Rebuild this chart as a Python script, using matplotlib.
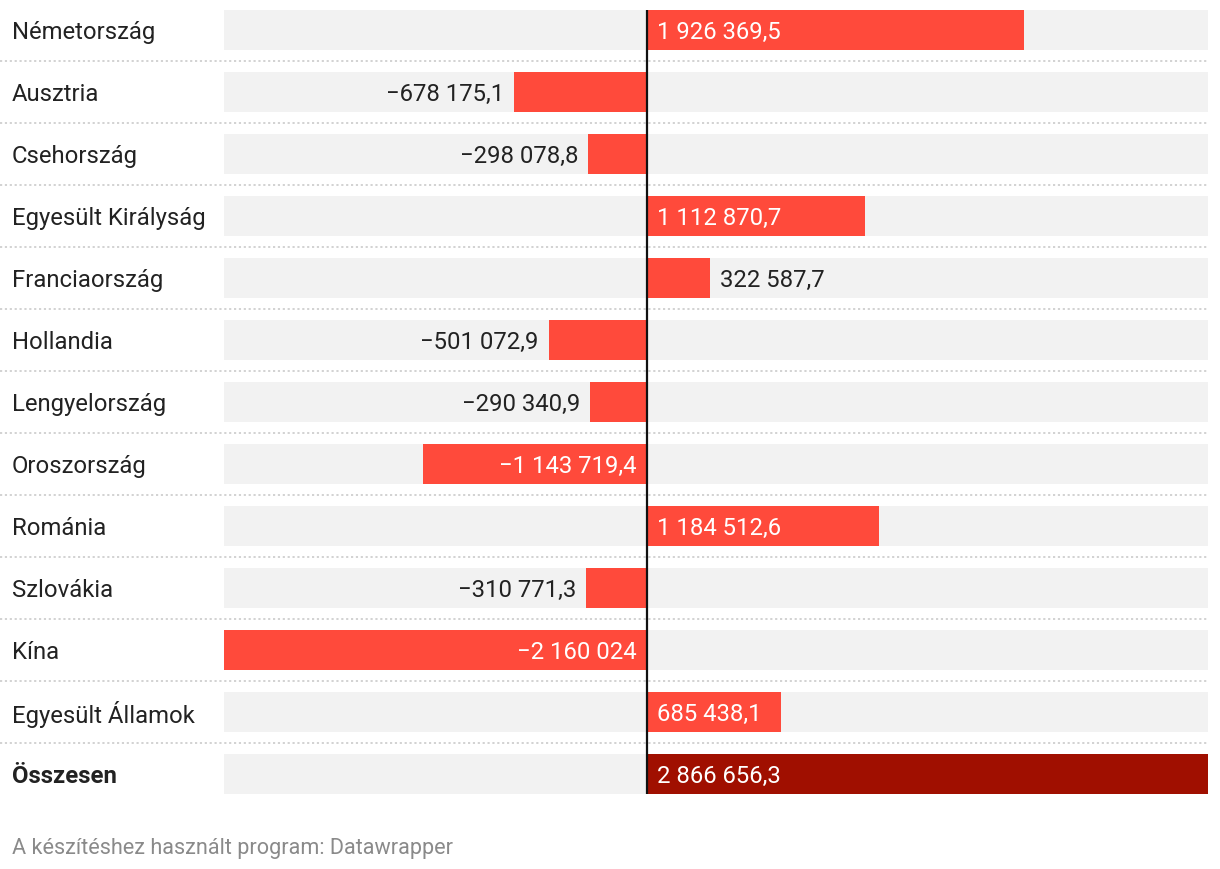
import matplotlib
matplotlib.use("Agg")
import matplotlib.pyplot as plt
import matplotlib.transforms as mtransforms

plt.rcParams["font.family"] = ["Roboto", "DejaVu Sans"]

# --------------------------------------------------------
#  Data
# --------------------------------------------------------

countries = [
    "Németország", "Ausztria", "Csehország", "Egyesült Királyság",
    "Franciaország", "Hollandia", "Lengyelország", "Oroszország",
    "Románia", "Szlovákia", "Kína", "Egyesült Államok", "Összesen",
]
values = [
    1926369.5, -678175.1, -298078.8, 1112870.7,
    322587.7, -501072.9, -290340.9, -1143719.4,
    1184512.6, -310771.3, -2160024.0, 685438.1, 2866656.3,
]
footer = "A készítéshez használt program: Datawrapper"

BAR_RED   = "#ff4a3b"
TOTAL_RED = "#a00f00"
BG_GREY   = "#f2f2f2"
TEXT_DARK = "#222222"


def fmt_hu(v: float) -> str:
    """Hungarian style number: space thousands, comma decimal, real minus"""
    s = f"{abs(v):,.1f}".replace(",", " ").replace(".", ",")
    if s.endswith(",0"):
        s = s[:-2]
    return ("\u2212" if v < 0 else "") + s


# --------------------------------------------------------
#  Figure
# --------------------------------------------------------

W, H = 1220, 870
fig = plt.figure(figsize=(W / 100, H / 100), dpi=100)
ax = fig.add_axes([224 / W, (H - 806) / H, 984 / W, 806 / H])

xmin, xmax = min(values), max(values)
n = len(countries)
ax.set_xlim(xmin, xmax)
ax.set_ylim(n - 0.5, -0.5)
ax.axis("off")

bar_h = 40 / 62
rows = list(range(n))

ax.barh(rows, [xmax - xmin] * n, left=xmin, height=bar_h, color=BG_GREY, zorder=1)
colors = [TOTAL_RED if c == "Összesen" else BAR_RED for c in countries]
ax.barh(rows, values, height=bar_h, color=colors, zorder=2)

# zero line
ax.plot([0, 0], [-bar_h / 2, n - 1 + bar_h / 2], color="#111111", lw=1.6, zorder=4,
        solid_capstyle="butt")

# dotted separators, from the left edge of the figure
blend = mtransforms.blended_transform_factory(fig.transFigure, ax.transData)
for i in range(n - 1):
    ax.plot([0, 1208 / W], [i + 0.5, i + 0.5], transform=blend, color="#cfcfcf",
            lw=1.3, ls=(0, (1.2, 1.5)), clip_on=False, zorder=1)

# category labels
FS = 17.2
for i, c in enumerate(countries):
    ax.text(12 / W, i + 0.02, c, transform=blend, ha="left", va="center", fontsize=FS,
            color=TEXT_DARK, fontweight="bold" if c == "Összesen" else "normal")

# value labels: inside in white when they fit, else outside in dark
fig.canvas.draw()
renderer = fig.canvas.get_renderer()
px = ax.transData.transform
pad = 10
for i, v in enumerate(values):
    x0 = px((0, i))[0]
    x1 = px((v, i))[0]
    bar_w = abs(x1 - x0)
    t = ax.text(0, i + 0.02, fmt_hu(v), fontsize=FS, va="center", zorder=5)
    tw = t.get_window_extent(renderer).width
    sign = 1 if v >= 0 else -1
    if tw + 2 * pad <= bar_w:
        xt = x0 + sign * pad
        t.set_color("white")
    else:
        xt = x1 + sign * pad
        t.set_color(TEXT_DARK)
    t.set_ha("left" if v >= 0 else "right")
    t.set_x(ax.transData.inverted().transform((xt, 0))[0])

fig.text(12 / W, 1 - 849 / H, footer, ha="left", va="center", fontsize=15.6,
         color="#8a8a8a")

fig.savefig("out.png", dpi=100)
